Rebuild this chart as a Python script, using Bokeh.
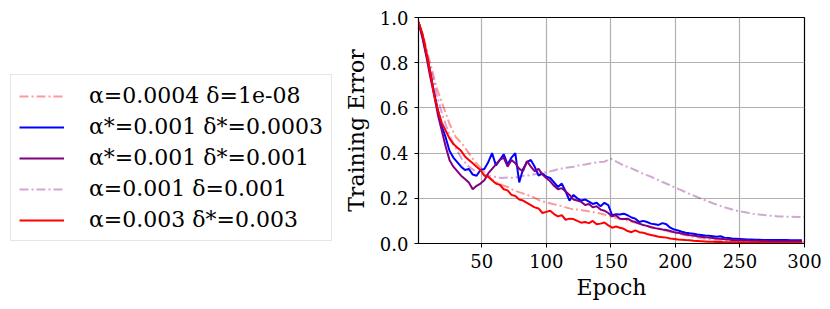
from bokeh.plotting import figure
from bokeh.layouts import row
from bokeh.models import Legend, LegendItem, Range1d, FixedTicker, PrintfTickFormatter
from bokeh.embed import file_html
from bokeh.resources import INLINE

# ---------------- data ----------------
epochs_dense = list(range(1, 301, 3))          # 1, 4, ..., 298
epochs_smooth = [1] + list(range(5, 301, 5))   # 1, 5, 10, ..., 300

labels = [
    "α=0.0004 δ=1e-08",
    "α*=0.001 δ*=0.0003",
    "α*=0.001 δ*=0.001",
    "α=0.001 δ=0.001",
    "α=0.003 δ*=0.003",
]

err_a0004 = [0.98,
    0.91, 0.80, 0.69, 0.61, 0.53, 0.47, 0.44, 0.40, 0.36, 0.33,
    0.295, 0.275, 0.26, 0.25, 0.235, 0.225, 0.215, 0.205, 0.19, 0.182,
    0.175, 0.168, 0.16, 0.152, 0.150, 0.145, 0.14, 0.135, 0.128, 0.12,
    0.112, 0.105, 0.098, 0.09, 0.082, 0.075, 0.068, 0.060, 0.053, 0.046,
    0.040, 0.034, 0.029, 0.024, 0.020, 0.017, 0.014, 0.012, 0.010, 0.009,
    0.008, 0.007, 0.006, 0.006, 0.005, 0.005, 0.005, 0.005, 0.005, 0.005]

err_a001_d0003 = [
    0.98, 0.92, 0.84, 0.76, 0.67, 0.59, 0.52, 0.47, 0.41, 0.38,
    0.36, 0.34, 0.325, 0.33, 0.305, 0.30, 0.325, 0.33, 0.36, 0.40,
    0.345, 0.37, 0.395, 0.35, 0.38, 0.40, 0.27, 0.33, 0.36, 0.37,
    0.34, 0.30, 0.31, 0.295, 0.29, 0.27, 0.25, 0.265, 0.23, 0.19,
    0.215, 0.20, 0.19, 0.195, 0.185, 0.175, 0.18, 0.165, 0.18, 0.17,
    0.125, 0.13, 0.128, 0.132, 0.125, 0.115, 0.11, 0.095, 0.10, 0.095,
    0.088, 0.085, 0.082, 0.09, 0.085, 0.07, 0.062, 0.058, 0.052, 0.048,
    0.045, 0.043, 0.040, 0.038, 0.035, 0.034, 0.032, 0.030, 0.032, 0.026,
    0.024, 0.022, 0.021, 0.020, 0.019, 0.018, 0.018, 0.017, 0.017, 0.016,
    0.016, 0.016, 0.015, 0.015, 0.015, 0.015, 0.014, 0.014, 0.014, 0.014]

err_a001_d001_star = [
    0.98, 0.91, 0.83, 0.74, 0.66, 0.57, 0.50, 0.43, 0.37, 0.34,
    0.32, 0.30, 0.285, 0.27, 0.24, 0.255, 0.265, 0.28, 0.31, 0.33,
    0.35, 0.37, 0.38, 0.34, 0.37, 0.355, 0.33, 0.32, 0.365, 0.34,
    0.32, 0.33, 0.305, 0.29, 0.275, 0.255, 0.24, 0.245, 0.23, 0.215,
    0.195, 0.19, 0.185, 0.17, 0.175, 0.16, 0.165, 0.15, 0.145, 0.135,
    0.12, 0.125, 0.11, 0.108, 0.11, 0.10, 0.095, 0.088, 0.082, 0.078,
    0.072, 0.068, 0.065, 0.062, 0.06, 0.055, 0.05, 0.048, 0.044, 0.040,
    0.037, 0.035, 0.032, 0.030, 0.028, 0.026, 0.024, 0.022, 0.021, 0.019,
    0.018, 0.016, 0.015, 0.014, 0.013, 0.013, 0.012, 0.012, 0.011, 0.011,
    0.011, 0.010, 0.010, 0.010, 0.010, 0.010, 0.010, 0.010, 0.010, 0.010]

err_a001_d001 = [0.98,
    0.90, 0.78, 0.66, 0.56, 0.48, 0.42, 0.37, 0.34, 0.32, 0.31,
    0.30, 0.295, 0.29, 0.292, 0.29, 0.298, 0.30, 0.305, 0.31, 0.315,
    0.322, 0.33, 0.335, 0.338, 0.345, 0.35, 0.355, 0.36, 0.362, 0.375,
    0.36, 0.345, 0.335, 0.322, 0.308, 0.298, 0.285, 0.272, 0.26, 0.246,
    0.235, 0.222, 0.21, 0.198, 0.187, 0.176, 0.166, 0.157, 0.149, 0.142,
    0.137, 0.132, 0.128, 0.125, 0.122, 0.12, 0.119, 0.118, 0.117, 0.117]

err_a003 = [
    0.98, 0.93, 0.85, 0.76, 0.66, 0.59, 0.535, 0.50, 0.465, 0.44,
    0.425, 0.41, 0.385, 0.37, 0.355, 0.34, 0.325, 0.30, 0.295, 0.28,
    0.265, 0.26, 0.24, 0.235, 0.215, 0.21, 0.195, 0.19, 0.18, 0.17,
    0.16, 0.155, 0.135, 0.14, 0.145, 0.13, 0.12, 0.125, 0.105, 0.11,
    0.108, 0.10, 0.092, 0.095, 0.09, 0.10, 0.085, 0.088, 0.093, 0.08,
    0.07, 0.075, 0.07, 0.065, 0.055, 0.05, 0.058, 0.05, 0.048, 0.042,
    0.038, 0.034, 0.03, 0.028, 0.026, 0.022, 0.02, 0.018, 0.017, 0.015,
    0.014, 0.012, 0.011, 0.010, 0.009, 0.008, 0.008, 0.007, 0.007, 0.006,
    0.006, 0.006, 0.005, 0.005, 0.005, 0.004, 0.004, 0.004, 0.004, 0.004,
    0.003, 0.003, 0.003, 0.003, 0.003, 0.003, 0.003, 0.003, 0.003, 0.003]

x_ticks = [50, 100, 150, 200, 250, 300]
y_ticks = [0.0, 0.2, 0.4, 0.6, 0.8, 1.0]

# ---------------- styles ----------------
FONT = "DejaVu Serif"
DASHDOT = "9 3 2 3"
styles = [
    dict(line_color="#ff0000", line_alpha=0.4, line_width=2, line_dash=DASHDOT),
    dict(line_color="#0000ff", line_width=2),
    dict(line_color="#800080", line_width=2),
    dict(line_color="#800080", line_alpha=0.35, line_width=2, line_dash=DASHDOT),
    dict(line_color="#ff0000", line_width=2),
]
series = [
    (epochs_smooth, err_a0004),
    (epochs_dense, err_a001_d0003),
    (epochs_dense, err_a001_d001_star),
    (epochs_smooth, err_a001_d001),
    (epochs_dense, err_a003),
]

# ---------------- main plot ----------------
p = figure(
    frame_width=386, frame_height=226,
    min_border_left=75, min_border_top=17, min_border_right=22, min_border_bottom=57,
    x_range=Range1d(1, 300), y_range=Range1d(0, 1),
    output_backend="svg", toolbar_location=None,
)
p.background_fill_color = "white"
p.border_fill_color = "white"
p.outline_line_color = "black"
p.outline_line_width = 1.2

for ax in (p.xaxis[0], p.yaxis[0]):
    ax.major_label_text_font = FONT
    ax.major_label_text_font_size = "18px"
    ax.major_label_text_color = "black"
    ax.axis_label_text_font = FONT
    ax.axis_label_text_font_size = "22px"
    ax.axis_label_text_font_style = "normal"
    ax.axis_label_text_color = "black"
    ax.axis_line_color = "black"
    ax.major_tick_line_color = "black"
    ax.major_tick_out = 4
    ax.major_tick_in = 0
    ax.minor_tick_line_color = None

p.xaxis.axis_label = "Epoch"
p.yaxis.axis_label = "Training Error"
p.xaxis.ticker = FixedTicker(ticks=x_ticks)
p.yaxis.ticker = FixedTicker(ticks=y_ticks)
p.xaxis.formatter = PrintfTickFormatter(format="%d")
p.yaxis.formatter = PrintfTickFormatter(format="%.1f")
p.xaxis.major_label_standoff = 6
p.yaxis.major_label_standoff = 6
p.xaxis.axis_label_standoff = 4
p.yaxis.axis_label_standoff = 8

p.grid.grid_line_color = "#b0b0b0"
p.grid.grid_line_width = 1.2
p.xgrid.ticker = FixedTicker(ticks=x_ticks)
p.ygrid.ticker = FixedTicker(ticks=y_ticks)

for (xs, ys), st in zip(series, styles):
    p.line(xs, ys, **st)

# ---------------- legend panel ----------------
# (frames of the row are aligned, so this panel's frame matches the plot's)
lf = figure(
    width=340, height=300, min_border=0,
    x_range=Range1d(-20, -10), y_range=Range1d(0, 1),   # series lie off-view
    x_axis_type=None, y_axis_type=None,
    output_backend="svg", toolbar_location=None,
)
lf.grid.visible = False
lf.outline_line_color = None
lf.background_fill_color = "white"
lf.border_fill_color = "white"

items = []
for lab, (xs, ys), st in zip(labels, series, styles):
    r = lf.line(xs, ys, **st)
    items.append(LegendItem(label=lab, renderers=[r]))

legend = Legend(
    items=items,
    location=(10, 0),
    label_text_font=FONT,
    label_text_font_size="22px",
    label_text_color="black",
    glyph_width=45, glyph_height=20,
    label_standoff=25,
    spacing=6, padding=8, margin=0,
    border_line_color="#cccccc", border_line_width=1.2,
    background_fill_color="white",
)
lf.add_layout(legend)

layout = row(lf, p)
open("out.html", "w").write(file_html(layout, INLINE))
